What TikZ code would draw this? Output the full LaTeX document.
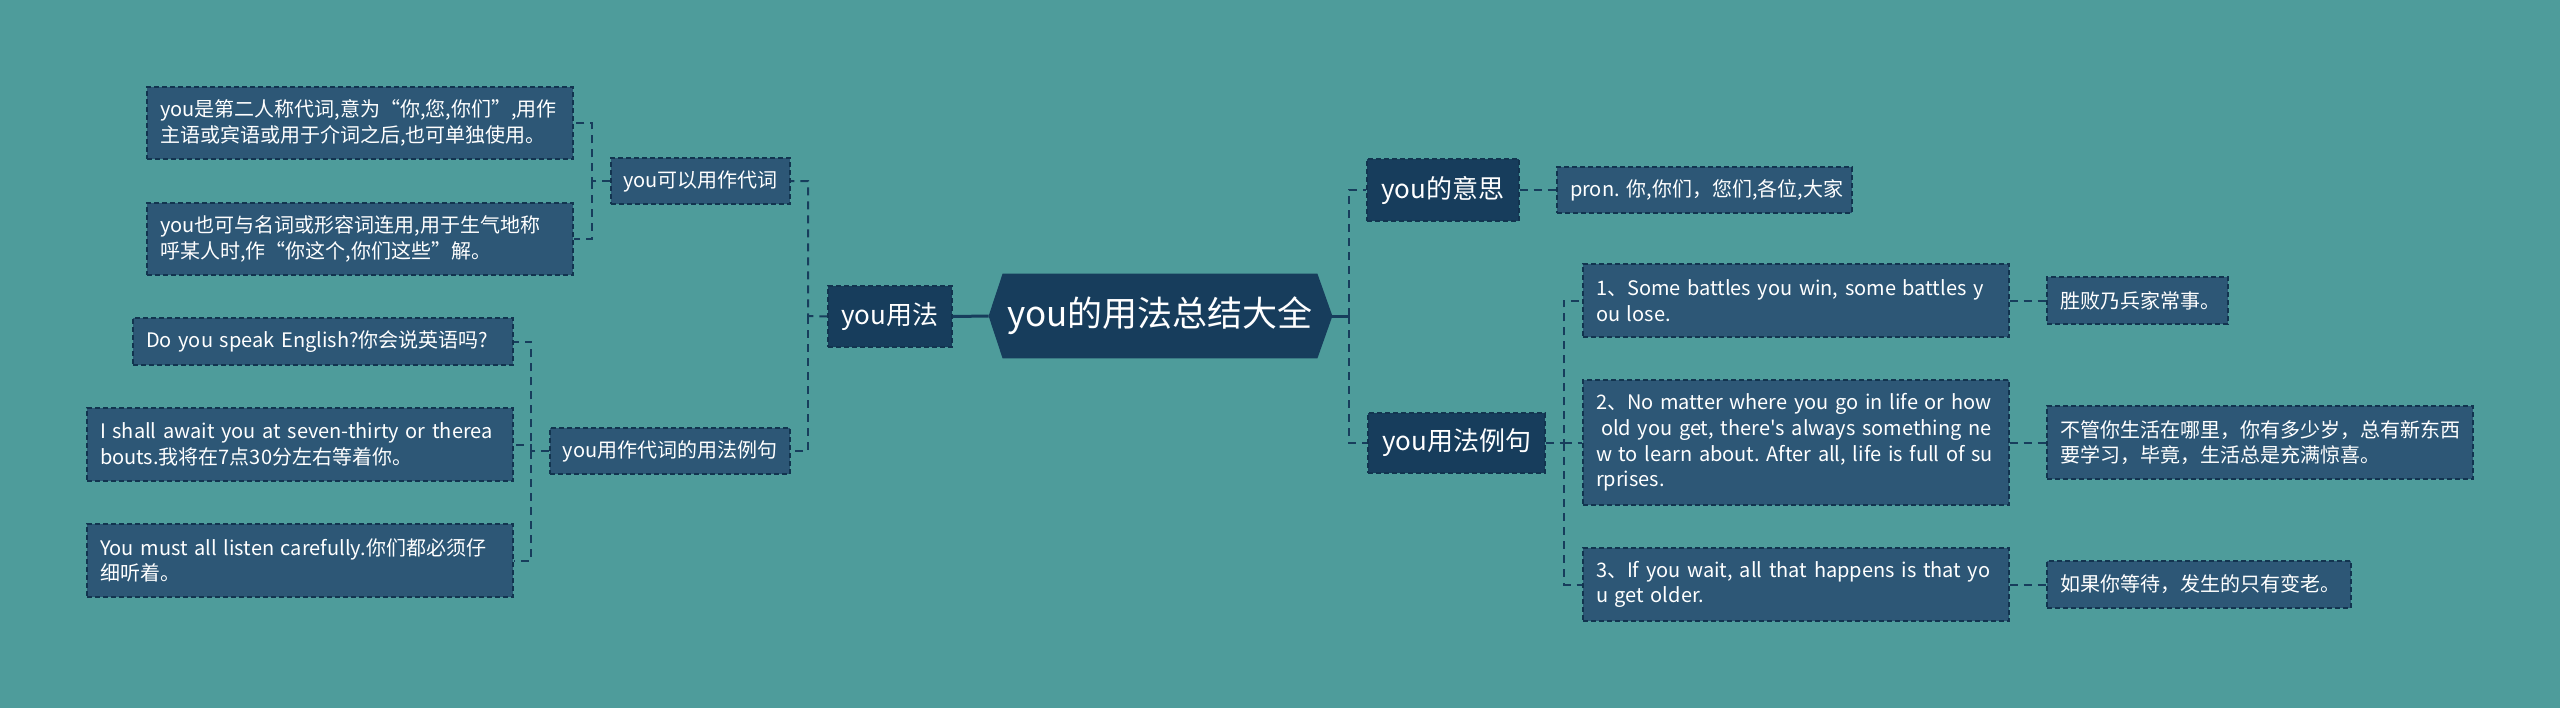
\documentclass[tikz,border=0pt]{standalone}
\usepackage{fontspec}
\setmainfont{Noto Sans CJK SC}
\usetikzlibrary{backgrounds,calc}
\definecolor{bgc}{HTML}{4E9C9B}
\definecolor{darkc}{HTML}{173D5C}
\definecolor{midc}{HTML}{2D5776}
\definecolor{edgec}{HTML}{12344F}
\newcommand{\Lx}[1]{\mbox{#1}}
\frenchspacing
\begin{document}
\begin{tikzpicture}[x=0.5pt,y=-0.5pt,
  leaf/.style={draw=edgec, dash pattern=on 2.5pt off 1.5pt, line width=0.6pt, fill=midc, text=white,
    inner xsep=6.5pt, inner ysep=0pt, align=left, font=\fontsize{10}{12.8}\selectfont\frenchspacing},
  mainbox/.style={draw=edgec, dash pattern=on 2.5pt off 1.5pt, line width=0.6pt, fill=darkc, text=white,
    inner xsep=0pt, inner ysep=0pt, align=center, font=\fontsize{13}{15}\selectfont},
  subbox/.style={leaf, align=center, inner xsep=0pt},
  conn/.style={draw=darkc, line width=1pt, dash pattern=on 4pt off 3pt},
  trunk/.style={draw=darkc, line width=1.5pt}
]
\begin{scope}[on background layer]
  \fill[bgc] (0,0) rectangle (2560,708);
\end{scope}

% central node
\node[text=white, font=\fontsize{17.5}{20}\selectfont, minimum width=157pt, minimum height=42pt, inner sep=0pt] (root) at (1160,316) {you的用法总结大全};
\coordinate (rootL) at ($(root.west)+(-14,0)$);
\coordinate (rootR) at ($(root.east)+(15,0)$);
\begin{scope}[on background layer]
  \fill[darkc] (root.north west) -- (root.north east) -- (rootR) -- (root.south east) -- (root.south west) -- (rootL) -- cycle;
\end{scope}

% level 1
\node[mainbox, minimum width=62pt, minimum height=30.5pt] (use) at (890,316.5) {you用法};
\node[mainbox, minimum width=76pt, minimum height=31pt] (mean) at (1443,190) {you的意思};
\node[mainbox, minimum width=88.5pt, minimum height=30pt] (ex) at (1456.5,443) {you用法例句};

% level 2 left
\node[subbox, minimum width=89.5pt, minimum height=23pt] (pron) at (700.5,181) {you可以用作代词};
\node[subbox, minimum width=120pt, minimum height=23pt] (pex) at (670,451) {you用作代词的用法例句};

\node[leaf, text width=200pt, minimum height=36pt] (a) at (360,123) {\Lx{you是第二人称代词,意为“你,您,你们”,用作}\\\Lx{主语或宾语或用于介词之后,也可单独使用。}};
\node[leaf, text width=200pt, minimum height=36pt] (b) at (360,239) {\Lx{you也可与名词或形容词连用,用于生气地称}\\\Lx{呼某人时,作“你这个,你们这些”解。}};

\node[leaf, text width=177pt, minimum height=23.5pt] (c) at (323,341.5) {\Lx{Do you speak English?你会说英语吗?}};
\node[leaf, text width=200pt, minimum height=36.5pt] (d) at (300,444.5) {\Lx{I shall await you at seven-thirty or therea}\\\Lx{bouts.我将在7点30分左右等着你。}};
\node[leaf, text width=200pt, minimum height=36.5pt] (e) at (300,560.5) {\Lx{You must all listen carefully.你们都必须仔}\\\Lx{细听着。}};

% right
\node[leaf, text width=134.5pt, minimum height=23pt] (p) at (1704.5,190) {\Lx{pron. 你,你们，您们,各位,大家}};

\node[leaf, text width=200pt, minimum height=36.5pt] (r1) at (1796,300.5) {\Lx{1、Some battles you win, some battles y}\\\Lx{ou lose.}};
\node[leaf, text width=200pt, minimum height=62.5pt] (r2) at (1796,442.5) {\Lx{2、No matter where you go in life or how}\\\Lx{\hspace*{0.25em}old you get, there\textquotesingle s always something ne}\\\Lx{w to learn about. After all, life is full of su}\\\Lx{rprises.}};
\node[leaf, text width=200pt, minimum height=36.5pt] (r3) at (1796,584.5) {\Lx{3、If you wait, all that happens is that yo}\\\Lx{u get older.}};

\node[leaf, text width=77.5pt, minimum height=23.5pt] (t1) at (2137.5,300.5) {\Lx{胜败乃兵家常事。}};
\node[leaf, text width=200pt, minimum height=36.5pt] (t2) at (2260,442.5) {\Lx{不管你生活在哪里，你有多少岁，总有新东西}\\\Lx{要学习，毕竟，生活总是充满惊喜。}};
\node[leaf, text width=139pt, minimum height=23.5pt] (t3) at (2199,584.5) {\Lx{如果你等待，发生的只有变老。}};

% junctions
\coordinate (jl) at (808,316);
\coordinate (ja) at (592,181);
\coordinate (jb) at (531,451);
\coordinate (jr) at (1349,316);
\coordinate (ju) at (1564,443);

% connectors
\draw[trunk] (rootL) -- (use.east);
\draw[trunk] (rootR) -- (jr);
\draw[conn] (use.west) -- (jl) |- (pron.east);
\draw[conn] (jl) |- (pex.east);
\draw[conn] (pron.west) -- (ja) |- (a.east);
\draw[conn] (ja) |- (b.east);
\draw[conn] (pex.west) -- (jb) |- (c.east);
\draw[conn] (jb) |- (d.east);
\draw[conn] (jb) |- (e.east);
\draw[conn] (jr) |- (mean.west);
\draw[conn] (jr) |- (ex.west);
\draw[conn] (mean.east) -- (p.west);
\draw[conn] (ex.east) -- (ju) |- (r1.west);
\draw[conn] (ju) |- (r2.west);
\draw[conn] (ju) |- (r3.west);
\draw[conn] (r1.east) -- (t1.west);
\draw[conn] (r2.east) -- (t2.west);
\draw[conn] (r3.east) -- (t3.west);
\end{tikzpicture}
\end{document}
